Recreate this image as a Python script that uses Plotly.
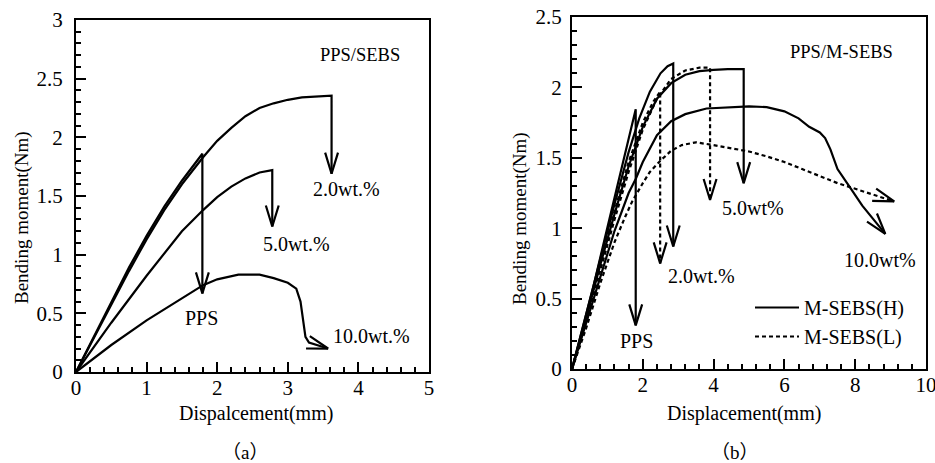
import numpy as np
import plotly.graph_objects as go

# ---------------- Panel (a): PPS/SEBS ----------------
a_pps_x = [0, 0.25, 0.5, 0.75, 1.0, 1.25, 1.5, 1.79, 1.79]
a_pps_y = [0, 0.30, 0.60, 0.89, 1.16, 1.41, 1.63, 1.86, 0.67]

a_2wt_x = [0, 0.25, 0.5, 0.75, 1.0, 1.25, 1.5, 1.8, 2.0, 2.2, 2.4, 2.6, 2.8, 3.0, 3.2, 3.4, 3.62, 3.62]
a_2wt_y = [0, 0.29, 0.58, 0.86, 1.13, 1.38, 1.60, 1.83, 1.97, 2.08, 2.18, 2.25, 2.29, 2.32, 2.34, 2.35, 2.355, 1.69]

a_5wt_x = [0, 0.5, 1.0, 1.5, 1.8, 2.0, 2.2, 2.4, 2.6, 2.78, 2.78]
a_5wt_y = [0, 0.42, 0.82, 1.20, 1.38, 1.49, 1.58, 1.65, 1.70, 1.72, 1.24]

a_10wt_x = [0, 0.5, 1.0, 1.5, 1.8, 2.0, 2.3, 2.6, 2.8, 3.0, 3.12, 3.18, 3.22, 3.25, 3.30, 3.57]
a_10wt_y = [0, 0.23, 0.44, 0.63, 0.74, 0.79, 0.83, 0.83, 0.80, 0.76, 0.71, 0.60, 0.40, 0.30, 0.25, 0.20]

a_labels = ["PPS/SEBS", "2.0wt.%", "5.0wt.%", "PPS", "10.0wt.%"]
a_label_x = [4.02, 3.83, 3.13, 1.78, 4.19]
a_label_y = [2.70, 1.56, 1.09, 0.46, 0.31]

# ---------------- Panel (b): PPS/M-SEBS ----------------
b_pps_x = [0, 0.3, 0.6, 0.9, 1.2, 1.5, 1.8, 1.8]
b_pps_y = [0, 0.28, 0.58, 0.90, 1.22, 1.54, 1.845, 0.31]

b_2wt_h_x = [0, 0.4, 0.8, 1.2, 1.6, 1.9, 2.2, 2.5, 2.7, 2.86, 2.86]
b_2wt_h_y = [0, 0.38, 0.78, 1.17, 1.54, 1.78, 1.97, 2.10, 2.15, 2.17, 0.87]

b_2wt_l_x = [0, 0.4, 0.8, 1.2, 1.6, 2.0, 2.3, 2.49, 2.49]
b_2wt_l_y = [0, 0.36, 0.74, 1.12, 1.47, 1.75, 1.90, 1.97, 0.75]

b_5wt_h_x = [0, 0.4, 0.8, 1.2, 1.6, 2.0, 2.4, 2.8, 3.2, 3.6, 4.0, 4.4, 4.85, 4.85]
b_5wt_h_y = [0, 0.36, 0.74, 1.10, 1.44, 1.72, 1.92, 2.03, 2.09, 2.115, 2.125, 2.13, 2.13, 1.32]

b_5wt_l_x = [0, 0.4, 0.8, 1.2, 1.6, 2.0, 2.4, 2.8, 3.2, 3.6, 3.9, 3.9]
b_5wt_l_y = [0, 0.34, 0.70, 1.06, 1.40, 1.70, 1.92, 2.06, 2.12, 2.14, 2.14, 1.20]

b_10wt_h_x = [0, 0.4, 0.8, 1.2, 1.6, 1.8, 2.0, 2.4, 2.8, 3.2, 3.8, 4.4, 5.0, 5.5, 6.0, 6.4, 6.7, 7.0, 7.15, 7.3, 7.5, 7.8, 8.2, 8.85]
b_10wt_h_y = [0, 0.33, 0.66, 0.98, 1.25, 1.35, 1.47, 1.66, 1.76, 1.81, 1.85, 1.86, 1.865, 1.86, 1.83, 1.78, 1.72, 1.68, 1.64, 1.56, 1.42, 1.31, 1.16, 0.96]

b_10wt_l_x = [0, 0.4, 0.8, 1.2, 1.5, 1.7, 2.0, 2.2, 2.5, 2.8, 3.1, 3.5, 4.0, 4.5, 5.0, 5.5, 6.0, 6.5, 7.0, 7.5, 8.0, 8.5, 9.1]
b_10wt_l_y = [0, 0.29, 0.61, 0.90, 1.08, 1.19, 1.32, 1.40, 1.48, 1.55, 1.59, 1.61, 1.59, 1.57, 1.545, 1.51, 1.47, 1.42, 1.37, 1.32, 1.28, 1.24, 1.19]

b_labels = ["PPS/M-SEBS", "5.0wt%", "2.0wt.%", "PPS", "10.0wt%"]
b_label_x = [7.6, 5.12, 3.66, 1.83, 8.69]
b_label_y = [2.25, 1.14, 0.66, 0.20, 0.775]

# ---------------- layout geometry ----------------
W, H = 935, 463
RX_A, RY_A = [0, 5], [0, 3]
RX_B, RY_B = [0, 10], [0, 2.5]
DX_A = [76 / W, 429 / W]
DY_A = [1 - 372 / H, 1 - 20 / H]
DX_B = [572 / W, 926 / W]
DY_B = [1 - 369 / H, 1 - 17 / H]

def scale(dom, rng, size):
    return (dom[1] - dom[0]) * size / (rng[1] - rng[0])

KX_A, KY_A = scale(DX_A, RX_A, W), scale(DY_A, RY_A, H)
KX_B, KY_B = scale(DX_B, RX_B, W), scale(DY_B, RY_B, H)

FONT = "Liberation Serif"
LW = 2.2

def arrow_head(xs, ys, kx, ky, length=22, half=np.radians(17)):
    x1, y1, x2, y2 = xs[-2], ys[-2], xs[-1], ys[-1]
    ang = np.arctan2((y2 - y1) * ky, (x2 - x1) * kx)
    hx, hy = [], []
    for s in (1, -1):
        a = ang + np.pi + s * half
        hx.append(x2 + length * np.cos(a) / kx)
        hy.append(y2 + length * np.sin(a) / ky)
    return [hx[0], x2, hx[1]], [hy[0], y2, hy[1]]

fig = go.Figure()

def add_curve(xs, ys, xa, ya, kx, ky, dash="solid", name=None, show=False):
    fig.add_trace(go.Scatter(x=xs, y=ys, mode="lines", xaxis=xa, yaxis=ya,
                             line=dict(color="black", width=LW, dash=dash),
                             name=name, showlegend=show, legendgroup=name,
                             hoverinfo="skip"))
    hx, hy = arrow_head(xs, ys, kx, ky)
    fig.add_trace(go.Scatter(x=hx, y=hy, mode="lines", xaxis=xa, yaxis=ya,
                             line=dict(color="black", width=LW),
                             showlegend=False, hoverinfo="skip"))

# panel (a)
for xs, ys in [(a_pps_x, a_pps_y), (a_2wt_x, a_2wt_y), (a_5wt_x, a_5wt_y), (a_10wt_x, a_10wt_y)]:
    add_curve(xs, ys, "x", "y", KX_A, KY_A)

# panel (b)
DASH = "4px,3px"
add_curve(b_pps_x, b_pps_y, "x2", "y2", KX_B, KY_B)
add_curve(b_2wt_h_x, b_2wt_h_y, "x2", "y2", KX_B, KY_B)
add_curve(b_5wt_h_x, b_5wt_h_y, "x2", "y2", KX_B, KY_B)
add_curve(b_10wt_h_x, b_10wt_h_y, "x2", "y2", KX_B, KY_B, name="M-SEBS(H)", show=True)
add_curve(b_2wt_l_x, b_2wt_l_y, "x2", "y2", KX_B, KY_B, dash=DASH)
add_curve(b_5wt_l_x, b_5wt_l_y, "x2", "y2", KX_B, KY_B, dash=DASH)
add_curve(b_10wt_l_x, b_10wt_l_y, "x2", "y2", KX_B, KY_B, dash=DASH, name="M-SEBS(L)", show=True)

def axis(dom, rng, dtick, minor, anchor, std):
    return dict(domain=dom, range=rng, dtick=dtick, tick0=0, anchor=anchor,
                automargin=False, ticklabeloverflow="allow",
                showline=True, linecolor="black", linewidth=2.2, mirror=True,
                ticks="inside", ticklen=10, tickwidth=2, tickcolor="black",
                minor=dict(ticks="inside", ticklen=5, tickwidth=2, tickcolor="black",
                           dtick=minor, tick0=0, showgrid=False),
                showgrid=False, zeroline=False, fixedrange=True,
                ticklabelstandoff=std,
                tickfont=dict(family=FONT, size=21, color="black"))

ann = []
a_sizes = [18.5, 20, 20, 20, 20]
b_sizes = [18.5, 20, 20, 20, 20]
for t, x, y, fs in zip(a_labels, a_label_x, a_label_y, a_sizes):
    ann.append(dict(text=t, x=x, y=y, xref="x", yref="y", showarrow=False,
                    font=dict(family=FONT, size=fs, color="black")))
for t, x, y, fs in zip(b_labels, b_label_x, b_label_y, b_sizes):
    ann.append(dict(text=t, x=x, y=y, xref="x2", yref="y2", showarrow=False,
                    font=dict(family=FONT, size=fs, color="black")))

# axis titles and captions
titles = [
    ("Dispalcement(mm)", 256 / W, 1 - 413 / H, 0, 20),
    ("Bending moment(Nm)", 22 / W, 1 - 218 / H, -90, 19),
    ("Displacement(mm)", 744 / W, 1 - 413 / H, 0, 20),
    ("Bending moment(Nm)", 520 / W, 1 - 219 / H, -90, 19),
    ("（a）", 245 / W, 1 - 452 / H, 0, 19),
    ("（b）", 735 / W, 1 - 452 / H, 0, 19),
]
for t, x, y, ang, fs in titles:
    ann.append(dict(text=t, x=x, y=y, xref="paper", yref="paper", showarrow=False,
                    textangle=ang, xanchor="center", yanchor="middle",
                    font=dict(family="Liberation Serif, Noto Sans CJK JP", size=fs, color="black")))

fig.update_layout(
    template="none",
    width=W, height=H,
    margin=dict(l=0, r=0, t=0, b=0, autoexpand=False),
    paper_bgcolor="white", plot_bgcolor="white",
    xaxis=axis(DX_A, RX_A, 1, 0.2, "y", -4),
    yaxis=axis(DY_A, RY_A, 0.5, 0.1, "x", 7),
    xaxis2=axis(DX_B, RX_B, 2, 0.4, "y2", -4),
    yaxis2=axis(DY_B, RY_B, 0.5, 0.1, "x2", 4),
    annotations=ann,
    showlegend=True,
    legend=dict(x=750 / W, y=1 - 288 / H, xanchor="left", yanchor="top",
                bgcolor="rgba(0,0,0,0)", borderwidth=0, itemwidth=44,
                tracegroupgap=0,
                font=dict(family=FONT, size=20, color="black")),
)

fig.write_html("out.html",
               config={"displayModeBar": False},
               post_script="document.body.style.margin='0';document.body.style.overflow='hidden';")
